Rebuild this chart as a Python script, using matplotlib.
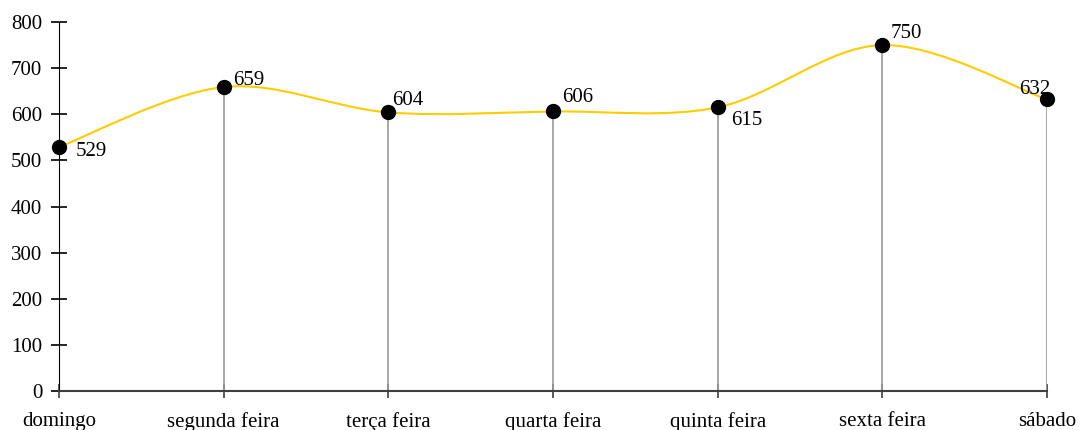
import matplotlib.pyplot as plt
import numpy as np
from matplotlib.path import Path
from matplotlib.patches import PathPatch

plt.rcParams['font.family'] = ['Liberation Serif', 'DejaVu Serif']
plt.rcParams['font.size'] = 15

days = ["domingo", "segunda feira", "terça feira", "quarta feira",
        "quinta feira", "sexta feira", "sábado"]
values = [529, 659, 604, 606, 615, 750, 632]
# label offsets in pixels (dx, dy)
label_offsets = [(17, -5), (9, 7), (4, 12), (9, 14), (13, -13), (8, 12), (-12, 10)]

fig = plt.figure(figsize=(10.82, 4.30), dpi=100)
ax = fig.add_axes([59/1082, 1-391/430, (1047-59)/1082, (391-22)/430])

x = np.arange(len(days))
y = np.array(values, dtype=float)

# smoothed line, Catmull-Rom style bezier segments
verts = [(x[0], y[0])]
codes = [Path.MOVETO]
for i in range(len(x) - 1):
    p0 = np.array([x[max(i-1, 0)], y[max(i-1, 0)]])
    p1 = np.array([x[i], y[i]])
    p2 = np.array([x[i+1], y[i+1]])
    p3 = np.array([x[min(i+2, len(x)-1)], y[min(i+2, len(x)-1)]])
    c1 = p1 + (p2 - p0) / 6
    c2 = p2 - (p3 - p1) / 6
    verts += [tuple(c1), tuple(c2), tuple(p2)]
    codes += [Path.CURVE4] * 3
ax.add_patch(PathPatch(Path(verts, codes), facecolor='none',
                       edgecolor='#FFCC00', linewidth=1.5, zorder=3))

ax.vlines(x[1:], 0, y[1:], color='#999999', linewidth=1.2, zorder=2)
ax.plot(x, y, 'o', color='black', markersize=10, zorder=4, clip_on=False)

for xi, yi, (dx, dy) in zip(x, y, label_offsets):
    ax.annotate(str(int(yi)), (xi, yi), xytext=(dx*0.72, dy*0.72),
                textcoords='offset points', ha='left' if dx > 0 else 'center',
                va='center', fontsize=15)

ax.set_xlim(0, 6)
ax.set_ylim(0, 800)
ax.set_yticks(range(0, 801, 100))
ax.set_xticks(x)
ax.set_xticklabels(days)
ax.spines['top'].set_visible(False)
ax.spines['right'].set_visible(False)
ax.spines['left'].set_color('black')
ax.spines['bottom'].set_color('#404040')
ax.spines['bottom'].set_linewidth(1.5)
ax.tick_params(axis='y', direction='inout', length=12, width=1.2, pad=6)
ax.tick_params(axis='x', direction='inout', length=10, width=1.2, pad=10,
               color='#404040')

plt.savefig("out.png")
